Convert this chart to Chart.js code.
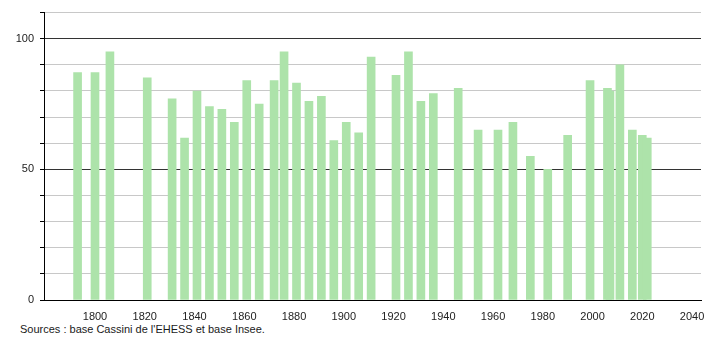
<!DOCTYPE html>
<html>
<head>
<meta charset="utf-8">
<script src="https://cdn.jsdelivr.net/npm/chart.js@4/dist/chart.umd.min.js"></script>
<style>
    body { margin: 0; background: #fff; }
    #wrap { position: relative; width: 710px; height: 320px; }
    #source { position: absolute; left: 20px; top: 323px; font: 11px "Liberation Sans", Arial, sans-serif; color: #1a1a1a; }
</style>
</head>
<body>
<div id="wrap"><canvas id="popChart"></canvas></div>
<div id="source">Sources : base Cassini de l'EHESS et base Insee.</div>
<script>
// Census years and population
const years  = [1793, 1800, 1806, 1821, 1831, 1836, 1841, 1846, 1851, 1856, 1861, 1866, 1872, 1876, 1881, 1886, 1891, 1896, 1901, 1906,
                1911, 1921, 1926, 1931, 1936, 1946, 1954, 1962, 1968, 1975, 1982, 1990, 1999, 2006, 2007, 2011, 2016, 2020, 2022];
const values = [87, 87, 95, 85, 77, 62, 80, 74, 73, 68, 84, 75, 84, 95, 83, 76, 78, 61, 68, 64,
                93, 86, 95, 76, 79, 81, 65, 65, 68, 55, 50, 63, 84, 81, 80, 90, 65, 63, 62];
const yLabels = [0, 50, 100];

const FONT = "'Liberation Sans', Arial, sans-serif";

document.addEventListener('DOMContentLoaded', function () {
    const ctx = document.getElementById('popChart');
    new Chart(ctx, {
        type: 'bar',
        data: {
            datasets: [{
                data: years.map((y, i) => ({ x: y, y: values[i] })),
                backgroundColor: '#ade3aa',
                borderWidth: 0,
                barThickness: 8
            }]
        },
        options: {
            responsive: true,
            maintainAspectRatio: false,
            animation: false,
            layout: { padding: { top: 10, right: 9, left: 0, bottom: 0 } },
            plugins: { legend: { display: false }, tooltip: { enabled: false } },
            scales: {
                x: {
                    type: 'linear',
                    offset: false,
                    min: 1779.5,
                    max: 2043.6,
                    afterFit: s => { s.height = 20; },
                    grid: { display: false, offset: false },
                    border: { display: true, color: '#000', width: 1 },
                    ticks: {
                        stepSize: 20,
                        includeBounds: false,
                        padding: 2,
                        maxRotation: 0,
                        color: '#222',
                        font: { family: FONT, size: 11 },
                        callback: v => (v >= 1800 && v % 20 === 0) ? String(v) : ''
                    }
                },
                y: {
                    min: 0,
                    max: 110,
                    afterFit: s => { s.width = 44; },
                    border: { display: true, color: '#000', width: 1 },
                    grid: {
                        color: c => {
                            const v = c.tick.value;
                            if (v === 0) return '#000';
                            return (v === 50 || v === 100) ? '#333' : '#c8c8c8';
                        },
                        tickColor: '#000',
                        tickLength: 4
                    },
                    ticks: {
                        stepSize: 10,
                        padding: 6,
                        color: '#222',
                        font: { family: FONT, size: 11 },
                        callback: v => yLabels.includes(v) ? String(v) : ''
                    }
                }
            }
        }
    });
});
</script>
</body>
</html>
